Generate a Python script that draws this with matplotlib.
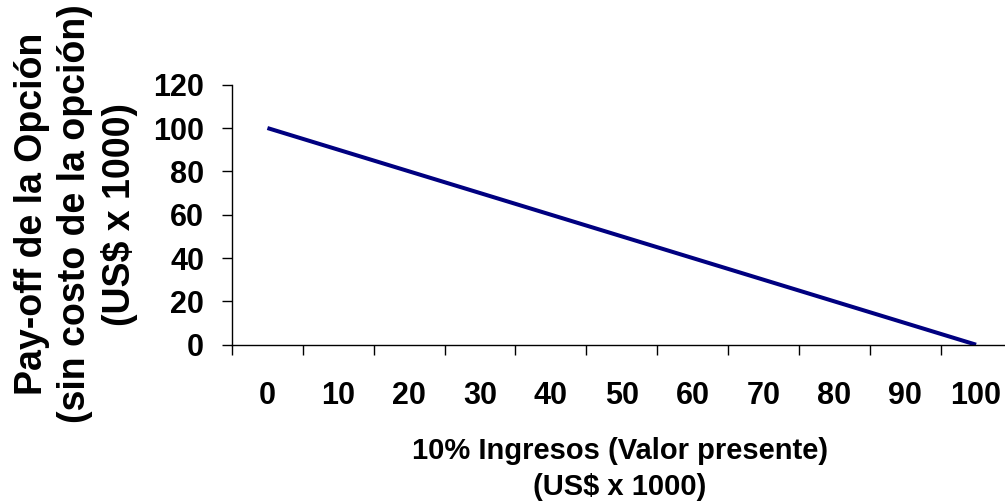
import matplotlib.pyplot as plt
import numpy as np

# chart data (US$ x 1000)
ingresos = [0, 10, 20, 30, 40, 50, 60, 70, 80, 90, 100]
payoff = [100, 90, 80, 70, 60, 50, 40, 30, 20, 10, 0]
y_ticks = [0, 20, 40, 60, 80, 100, 120]

LINE_COLOR = "#000080"
FONT = "Liberation Sans"

plt.rcParams["font.family"] = [FONT, "DejaVu Sans"]
plt.rcParams["font.weight"] = "bold"

fig = plt.figure(figsize=(10.05, 5.04), dpi=100)
W, H = 1005, 504
# axes box in pixels: x 232 -> 1011.5 (clipped at right), y 84.7 -> 344.7
ax = fig.add_axes([232 / W, 1 - 344.7 / H, (1011.5 - 232) / W, (344.7 - 84.7) / H])

pos = np.arange(len(ingresos))
ax.plot(pos, payoff, color=LINE_COLOR, linewidth=2.9, solid_capstyle="butt")

ax.set_xlim(-0.5, len(ingresos) - 0.5)
ax.set_ylim(0, 120)

# category axis: tick marks between categories, labels centred
ax.set_xticks(np.arange(len(ingresos) + 1) - 0.5)
ax.set_xticklabels([])
ax.set_xticks(pos, minor=True)
ax.set_xticklabels([str(v) for v in ingresos], minor=True, fontsize=22, fontweight="bold")
ax.tick_params(axis="x", which="major", direction="out", length=7.5, width=1.0)
ax.tick_params(axis="x", which="minor", length=0, pad=26)

ax.set_yticks(y_ticks)
ax.set_yticklabels([str(v) for v in y_ticks], fontsize=22, fontweight="bold")
ax.tick_params(axis="y", direction="out", length=7.5, width=1.0, pad=12.5)

for side in ["top", "right"]:
    ax.spines[side].set_visible(False)
for side in ["left", "bottom"]:
    ax.spines[side].set_linewidth(1.0)

fig.text(76 / W, 1 - 214 / H,
         "Pay-off de la Opción\n(sin costo de la opción)\n(US$ x 1000)",
         rotation=90, ha="center", va="center", multialignment="center",
         fontsize=27, fontweight="bold", linespacing=1.28)

fig.text(620 / W, 1 - 469 / H,
         "10% Ingresos (Valor presente)\n(US$ x 1000)",
         ha="center", va="center", multialignment="center",
         fontsize=21, fontweight="bold", linespacing=1.36)

fig.savefig("out.png", dpi=100)
